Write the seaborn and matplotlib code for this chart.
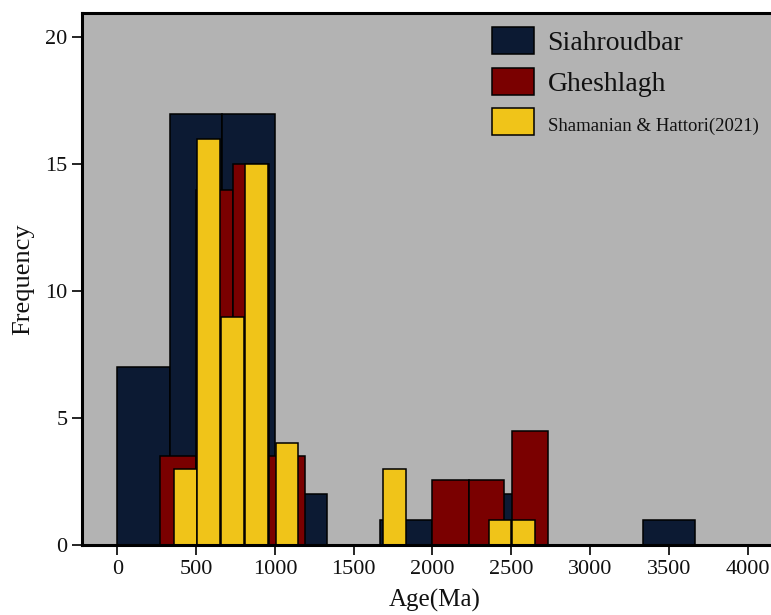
import numpy as np
import pandas as pd
import matplotlib
matplotlib.use("Agg")
import matplotlib.pyplot as plt
from matplotlib.patches import Patch
import seaborn as sns

# ---- data (ages in Ma, bar extents and frequencies) ----
series_names = ["Siahroudbar", "Gheshlagh", "Shamanian & Hattori(2021)"]

siah_left = [0, 333, 667, 1000, 1667, 2333, 3333]
siah_right = [333, 667, 1000, 1333, 2000, 2667, 3667]
siah_freq = [7, 17, 17, 2, 1, 2, 1]

ghesh_left = [271, 502, 733, 962, 2000, 2229, 2506]
ghesh_right = [502, 733, 962, 1192, 2229, 2457, 2736]
ghesh_freq = [3.5, 14, 15, 3.5, 2.55, 2.55, 4.5]

sham_left = [360, 506, 658, 808, 1004, 1686, 2362, 2506]
sham_right = [504, 652, 804, 955, 1148, 1833, 2500, 2648]
sham_freq = [3, 16, 9, 15, 4, 3, 1, 1]

x_ticks = [0, 500, 1000, 1500, 2000, 2500, 3000, 3500, 4000]
y_ticks = [0, 5, 10, 15, 20]

colors = ["#0c1a33", "#7a0000", "#f0c419"]

sns.set_theme(style="white")
plt.rcParams["font.family"] = ["Liberation Serif", "DejaVu Serif"]

fig = plt.figure(figsize=(7.71, 6.15), dpi=100)
ax = fig.add_axes([82 / 771, 70 / 615, 705 / 771, 532 / 615])
ax.set_facecolor("#b3b3b3")


def draw(left, right, freq, color):
    edges = sorted(set(left) | set(right))
    centers = [(l + r) / 2 for l, r in zip(left, right)]
    df = pd.DataFrame({"age": centers, "w": freq})
    sns.histplot(data=df, x="age", weights="w", bins=edges, stat="count",
                 color=color, edgecolor="black", linewidth=1.1, alpha=1,
                 ax=ax)


draw(siah_left, siah_right, siah_freq, colors[0])
draw(ghesh_left, ghesh_right, ghesh_freq, colors[1])
draw(sham_left, sham_right, sham_freq, colors[2])

ax.set_xlim(-224, 4250)
ax.set_ylim(0, 20.96)
ax.set_xticks(x_ticks)
ax.set_xticklabels([str(t) for t in x_ticks])
ax.set_yticks(y_ticks)
ax.set_yticklabels([str(t) for t in y_ticks])
ax.tick_params(axis="both", direction="out", length=7, width=1.2,
               color="black", labelsize=16, labelcolor="#111111",
               bottom=True, left=True)
ax.tick_params(axis="x", pad=4)
for s in ax.spines.values():
    s.set_color("black")
    s.set_linewidth(2.2)

ax.set_xlabel("Age(Ma)", fontsize=18, labelpad=7, color="#111111")
ax.set_ylabel("Frequency", fontsize=19, labelpad=8, color="#111111")

handles = [Patch(facecolor=c, edgecolor="black", linewidth=1.1) for c in colors]
leg = ax.legend(handles, series_names, loc="upper left",
                bbox_to_anchor=(492 / 771, 1 - 27 / 615),
                bbox_transform=fig.transFigure, frameon=False,
                fontsize=20, handlelength=1.5, handleheight=1.12,
                handletextpad=0.5, labelspacing=0.42, borderpad=0,
                borderaxespad=0)
texts = leg.get_texts()
texts[2].set_fontsize(13.5)
for t in texts:
    t.set_color("#111111")

fig.savefig("out.png", dpi=100, facecolor="white")
